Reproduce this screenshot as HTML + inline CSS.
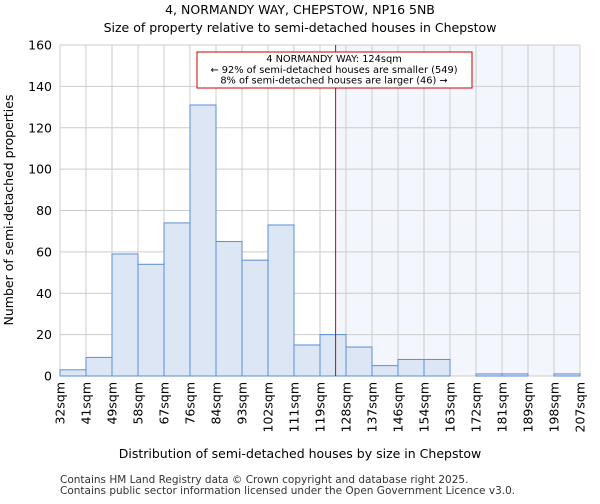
<!DOCTYPE html>
<html><head><meta charset="utf-8"><style>
body{margin:0;background:#fff;font-family:"DejaVu Sans","Liberation Sans",sans-serif;}
</style></head><body>
<svg id="c" width="600" height="500" xmlns="http://www.w3.org/2000/svg" font-family="DejaVu Sans, Liberation Sans, sans-serif">
<text x="300" y="14" text-anchor="middle" font-size="12.5">4, NORMANDY WAY, CHEPSTOW, NP16 5NB</text>
<text x="300" y="32" text-anchor="middle" font-size="12.5">Size of property relative to semi-detached houses in Chepstow</text>
<g id="grid"></g><g id="bars"></g><g id="ax"></g>
<text x="300" y="458" text-anchor="middle" font-size="12.5">Distribution of semi-detached houses by size in Chepstow</text>
<text transform="translate(13,210) rotate(-90)" text-anchor="middle" font-size="12.5">Number of semi-detached properties</text>
<text x="60" y="483" font-size="10.5" fill="#333">Contains HM Land Registry data © Crown copyright and database right 2025.</text>
<text x="60" y="494" font-size="10.5" fill="#333">Contains public sector information licensed under the Open Government Licence v3.0.</text>
</svg>
<script>
const labels=["32sqm","41sqm","49sqm","58sqm","67sqm","76sqm","84sqm","93sqm","102sqm","111sqm","119sqm","128sqm","137sqm","146sqm","154sqm","163sqm","172sqm","181sqm","189sqm","198sqm","207sqm"];
const counts=[3,9,59,54,74,131,65,56,73,15,20,14,5,8,8,0,1,1,0,1];
const yTicks=[0,20,40,60,80,100,120,140,160];
const markerBin=10.6;
const L=60,R=580,T=45,B=376,ymax=160;
const ns="http://www.w3.org/2000/svg";
const bw=(R-L)/counts.length;
const x=i=>L+i*bw, y=v=>B-(B-T)*v/ymax;
function mk(t,a,p){const e=document.createElementNS(ns,t);for(const k in a)e.setAttribute(k,a[k]);p.appendChild(e);return e;}
const g=document.getElementById('grid'),bars=document.getElementById('bars'),ax=document.getElementById('ax');
const mx=x(markerBin);
const sh=mk('rect',{x:mx,y:T,width:R-mx,height:B-T,fill:'#f3f6fd'},g);


yTicks.forEach(v=>{mk('line',{x1:L,x2:R,y1:y(v),y2:y(v),stroke:'#ccc'},g);
const t=mk('text',{x:L-8,y:y(v)+4.5,'text-anchor':'end','font-size':12.5},ax);t.textContent=v;

});
labels.forEach((s,i)=>{mk('line',{x1:x(i),x2:x(i),y1:T,y2:B,stroke:'#ccc'},g);
const t=mk('text',{transform:`translate(${x(i)+4.5},${B+6}) rotate(-90)`,'text-anchor':'end','font-size':12.5},ax);t.textContent=s;

});
counts.forEach((v,i)=>{if(v<=0)return;const r=mk('rect',{x:x(i),y:y(v),width:bw,height:B-y(v),fill:'#dce6f4',stroke:'#5a8ed6','stroke-width':1},bars);

});
const ml=mk('line',{x1:mx,x2:mx,y1:T,y2:B,stroke:'#dd0000','stroke-width':1},ax);


const bx=mk('rect',{x:197,y:52,width:275,height:36,fill:'#fff',stroke:'#cc0000'},ax);


["4 NORMANDY WAY: 124sqm","← 92% of semi-detached houses are smaller (549)","8% of semi-detached houses are larger (46) →"].forEach((s,i)=>{const t=mk('text',{x:334,y:62+i*10.8,'text-anchor':'middle','font-size':9.8},ax);t.textContent=s;

});
</script>
</body></html>
